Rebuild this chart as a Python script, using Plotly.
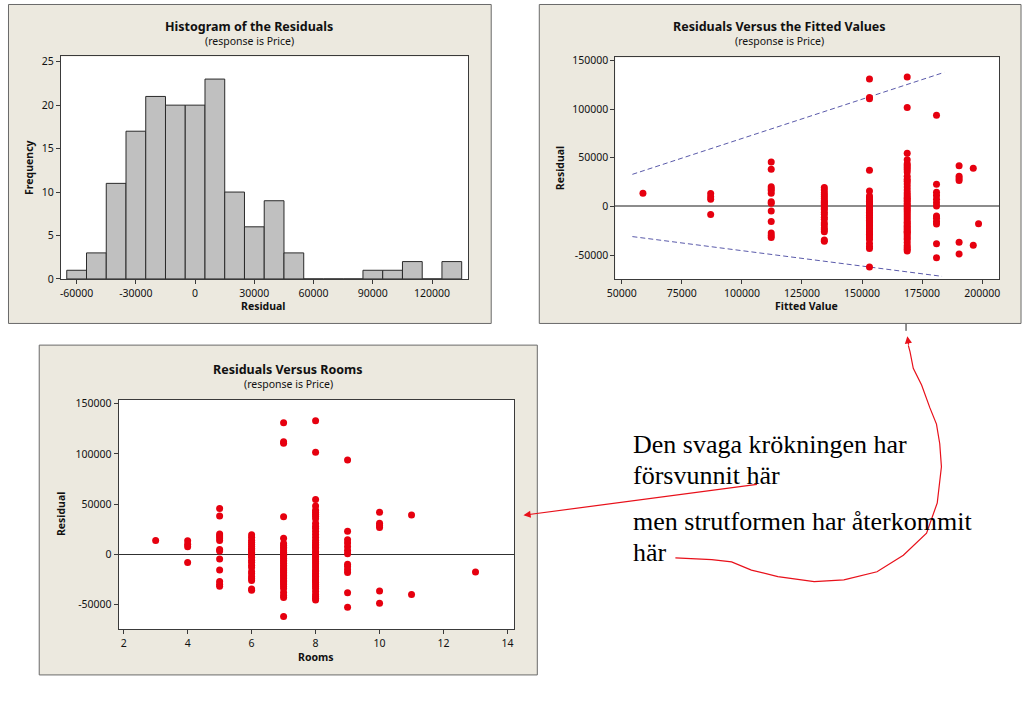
import plotly.graph_objects as go

W, H = 1024, 709

# ---------------- data ----------------
# Histogram of the residuals (bin centres, bin width 10000)
hist_bin_centers = [-60000, -50000, -40000, -30000, -20000, -10000, 0, 10000, 20000, 30000,
                    40000, 50000, 60000, 70000, 80000, 90000, 100000, 110000, 120000, 130000]
hist_counts = [1, 3, 11, 17, 21, 20, 20, 23, 10, 6, 9, 3, 0, 0, 0, 1, 1, 2, 0, 2]
hist_xtick_vals = [-60000, -30000, 0, 30000, 60000, 90000, 120000]
hist_xtick_text = ["-60000", "-30000", "0", "30000", "60000", "90000", "120000"]
hist_ytick_vals = [0, 5, 10, 15, 20, 25]

# Residuals grouped by number of rooms
room_levels = [3, 4, 5, 6, 7, 8, 9, 10, 11, 13]
fitted_levels = [58800, 87000, 112200, 134300, 153100, 168800, 181000, 190400, 196300, 198500]
res_r3 = [13700]
res_r4 = [13400, 10100, 7500, -8200]
res_r5 = [45700, 38200, 20300, 18300, 16300, 13700, 4900, 3300, -4600, -15500, -27100, -29700, -31700]
res_r6 = [-35800, -34500, -26000, -24000, -22000, -19000, -17000, -13000, -11000, -8000, -6000, -3000,
          -1500, 500, 2000, 3500, 4500, 6000, 8000, 10000, 12000, 14000, 17000, 19600]
res_r7 = [-62000, -43100, -41000, -38000, -34000, -32000, -30000, -28500, -27000, -26000,
          -24000, -22500, -21000, -19500, -18000, -16500, -15500, -14000, -12500, -11000, -9000,
          -7500, -6000, -4000, -2500, -1000, 500, 2000, 3500, 5500, 7000, 9000, 10800, 16000,
          37300, 110500, 112000, 131000]
res_r8 = [-45600, -43800, -42000, -40000, -37000, -34000, -32000, -30000, -28000, -26500, -25500,
          -23500, -22000, -20500, -19000, -17000, -16000, -13500, -11500, -9500, -7500, -5500,
          -3500, -2000, 0, 1500, 3000, 5500, 7000, 8500, 10000, 12000, 14000, 17000, 20000, 23000,
          26000, 28000, 31000, 35500, 38000, 40000, 42000, 44000, 48000, 54600, 101600, 133000]
res_r9 = [93800, 22900, 14600, 11400, 7500, 3900, 600, -9800, -12000, -15400, -18000, -38200, -52600]
res_r10 = [41800, 31000, 28800, 26800, -36600, -48700]
res_r11 = [39200, -39900]
res_r13 = [-17600]
residual_groups = [res_r3, res_r4, res_r5, res_r6, res_r7, res_r8, res_r9, res_r10, res_r11, res_r13]

# Dashed envelope lines in the fitted-value plot
upper_band_x = [54400, 184200]
upper_band_y = [33000, 137700]
lower_band_x = [54400, 183300]
lower_band_y = [-30900, -71700]

fit_xtick_vals = [50000, 75000, 100000, 125000, 150000, 175000, 200000]
fit_xtick_text = ["50000", "75000", "100000", "125000", "150000", "175000", "200000"]
res_ytick_vals = [-50000, 0, 50000, 100000, 150000]
res_ytick_text = ["-50000", "0", "50000", "100000", "150000"]
room_xtick_vals = [2, 4, 6, 8, 10, 12, 14]

# ---------------- helpers ----------------
def px(x):
    return x / W


def py(y):
    return 1 - y / H


rooms_x, fitted_x, resid_y = [], [], []
for r, f, grp in zip(room_levels, fitted_levels, residual_groups):
    for v in grp:
        rooms_x.append(r)
        fitted_x.append(f)
        resid_y.append(v)

RED = "#E6000F"
BEIGE = "#ECE9DF"
TICKF = dict(family="Noto Sans", size=10.5, color="#111")

fig = go.Figure()

fig.add_trace(go.Bar(x=hist_bin_centers, y=hist_counts, width=10000,
                     marker=dict(color="#C0C0C0", line=dict(color="#2A2A2A", width=1)),
                     xaxis="x", yaxis="y", showlegend=False, hoverinfo="skip"))

fig.add_trace(go.Scatter(x=upper_band_x, y=upper_band_y, mode="lines",
                         line=dict(color="#5A5AAA", width=1, dash="5px,3px"),
                         xaxis="x2", yaxis="y2", showlegend=False))
fig.add_trace(go.Scatter(x=lower_band_x, y=lower_band_y, mode="lines",
                         line=dict(color="#5A5AAA", width=1, dash="5px,3px"),
                         xaxis="x2", yaxis="y2", showlegend=False))
fig.add_trace(go.Scatter(x=fitted_x, y=resid_y, mode="markers",
                         marker=dict(color=RED, size=7, line=dict(width=0)),
                         xaxis="x2", yaxis="y2", showlegend=False))
fig.add_trace(go.Scatter(x=rooms_x, y=resid_y, mode="markers",
                         marker=dict(color=RED, size=7, line=dict(width=0)),
                         xaxis="x3", yaxis="y3", showlegend=False))

axis_common = dict(showgrid=False, showline=True, mirror=True, linecolor="#3A3A3A", linewidth=1,
                   ticks="outside", ticklen=4, tickcolor="#3A3A3A", tickfont=TICKF)

fig.update_layout(
    width=W, height=H, autosize=False,
    margin=dict(l=0, r=0, t=0, b=0, pad=0),
    paper_bgcolor="white", plot_bgcolor="white",
    showlegend=False,
    xaxis=dict(domain=[px(53.3), px(464.3)], range=[-68000, 138300], anchor="y",
               tickvals=hist_xtick_vals, ticktext=hist_xtick_text, zeroline=False, **axis_common),
    yaxis=dict(domain=[py(279.3), py(53.3)], range=[0, 25.6], anchor="x",
               tickvals=hist_ytick_vals, zeroline=False, **axis_common),
    xaxis2=dict(domain=[px(612.7), px(1000)], range=[47300, 207100], anchor="y2",
                tickvals=fit_xtick_vals, ticktext=fit_xtick_text, zeroline=False, **axis_common),
    yaxis2=dict(domain=[py(279.3), py(54.3)], range=[-74400, 153000], anchor="x2",
                tickvals=res_ytick_vals, ticktext=res_ytick_text,
                zeroline=True, zerolinecolor="#8C8C8C", zerolinewidth=1.5, **axis_common),
    xaxis3=dict(domain=[px(111.7), px(510.7)], range=[1.845, 14.21], anchor="y3",
                tickvals=room_xtick_vals, zeroline=False, **axis_common),
    yaxis3=dict(domain=[py(635), py(402.3)], range=[-74500, 153600], anchor="x3",
                tickvals=res_ytick_vals, ticktext=res_ytick_text,
                zeroline=True, zerolinecolor="#303030", zerolinewidth=1, **axis_common),
)

shapes = []
# beige panels
for (x0, y0, x1, y1) in [(0.5, 0.5, 487.5, 324.5), (536, 0.5, 1022, 324.5), (31.5, 346.5, 534, 681.5)]:
    shapes.append(dict(type="rect", xref="paper", yref="paper", x0=px(x0), x1=px(x1), y0=py(y1), y1=py(y0),
                       fillcolor=BEIGE, line=dict(color="#6A6A6A", width=1), layer="below"))
# white plot areas
for (x0, y0, x1, y1) in [(53.3, 53.3, 464.3, 279.3), (612.7, 54.3, 1000, 279.3), (111.7, 402.3, 510.7, 635)]:
    shapes.append(dict(type="rect", xref="paper", yref="paper", x0=px(x0), x1=px(x1), y0=py(y1), y1=py(y0),
                       fillcolor="white", line=dict(width=0), layer="below"))
# small stray tick below the fitted panel
shapes.append(dict(type="line", xref="paper", yref="paper", x0=px(906), x1=px(906), y0=py(325), y1=py(332),
                   line=dict(color="#222", width=1)))
# curved red connector
curve_pts = [(673.3, 562.7), (710, 564.3), (730, 566.7), (750, 575), (776.7, 581.7), (813.3, 586.7),
             (843.3, 585), (876.7, 576.7), (903.3, 560), (926.7, 537.5), (937.5, 506.7), (941.7, 470),
             (940, 446.7), (936.7, 426.7), (930, 410), (921.7, 387), (913.3, 370), (910, 353),
             (908.3, 346.7)]
path = "M " + " L ".join(f"{px(x):.5f},{py(y):.5f}" for x, y in curve_pts)
shapes.append(dict(type="path", xref="paper", yref="paper", path=path,
                   line=dict(color="#E8101A", width=1.2)))
fig.update_layout(shapes=shapes)

ann = []
TITLE_F = dict(family="Noto Sans", size=12.5, color="#111", weight="bold")
SUB_F = dict(family="Noto Sans", size=10.5, color="#111")
AX_F = dict(family="Noto Sans", size=10.5, color="#111", weight="bold")


def text(x, y, s, font, angle=0, xanchor="center"):
    ann.append(dict(x=px(x), y=py(y), xref="paper", yref="paper", text=s, showarrow=False,
                    font=font, textangle=angle, xanchor=xanchor, yanchor="middle", borderpad=0))


text(243.5, 23.3, "Histogram of the Residuals", TITLE_F)
text(243.5, 37.3, "(response is Price)", SUB_F)
text(257.7, 307, "Residual", AX_F)
text(21, 166.7, "Frequency", AX_F, angle=-90)

text(778.5, 23.3, "Residuals Versus the Fitted Values", TITLE_F)
text(778.5, 37.3, "(response is Price)", SUB_F)
text(805.7, 307, "Fitted Value", AX_F)
text(557, 166.7, "Residual", AX_F, angle=-90)

text(282.5, 371, "Residuals Versus Rooms", TITLE_F)
text(282.5, 385.7, "(response is Price)", SUB_F)
text(310.7, 663, "Rooms", AX_F)
text(53.3, 518.3, "Residual", AX_F, angle=-90)

SERIF = dict(family="Liberation Serif", size=26, color="#000")
text(630, 447, "Den svaga krökningen har", SERIF, xanchor="left")
text(630, 479, "försvunnit här", SERIF, xanchor="left")
text(630, 525.5, "men strutformen har återkommit", SERIF, xanchor="left")
text(630, 557, "här", SERIF, xanchor="left")

# straight red arrow to the rooms plot
ann.append(dict(x=px(520), y=py(519.3), xref="paper", yref="paper", text="", showarrow=True,
                ax=755 - 520, ay=488.3 - 519.3, axref="pixel", ayref="pixel",
                arrowcolor="#E8101A", arrowwidth=1.2, arrowhead=2, arrowsize=1.2, standoff=0))
# arrow head of the curved connector
ann.append(dict(x=px(907.3), y=py(337.5), xref="paper", yref="paper", text="", showarrow=True,
                ax=1.5, ay=10, axref="pixel", ayref="pixel",
                arrowcolor="#E8101A", arrowwidth=1.2, arrowhead=2, arrowsize=1.2, standoff=0))
fig.update_layout(annotations=ann)

fig.write_html("out.html", config={"displayModeBar": False},
               post_script="document.body.style.margin='0px';")
